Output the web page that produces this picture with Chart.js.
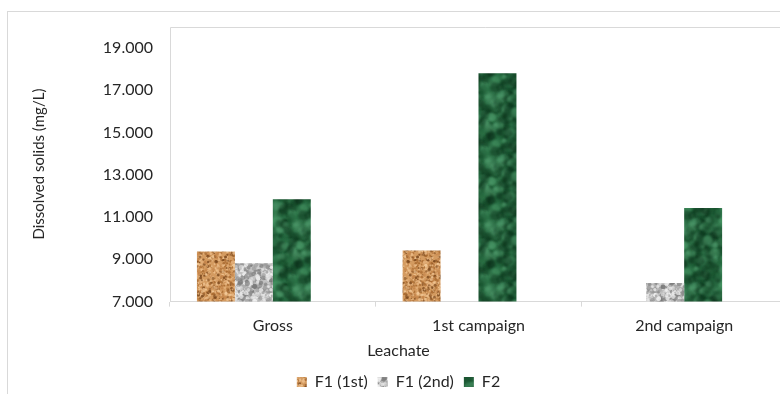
<!DOCTYPE html>
<html>
<head>
<meta charset="utf-8">
<script src="https://cdn.jsdelivr.net/npm/chart.js@4/dist/chart.umd.min.js"></script>
<style>
  html, body { margin: 0; padding: 0; background: #ffffff; overflow: hidden; }
  #wrap { width: 780px; height: 394px; overflow: hidden; }
</style>
</head>
<body>
<div id="wrap"><canvas id="chart" width="800" height="420"></canvas></div>
<script>
// Dissolved solids per leachate sample (mg/L)
const categories = ["Gross", "1st campaign", "2nd campaign"];
const f1First = [9370, 9420, null];
const f1Second = [8810, null, 7880];
const f2 = [11840, 17790, 11420];
const emptySlot = [null, null, null]; // fourth bar slot, left blank
const seriesNames = ["F1 (1st)", "F1 (2nd)", "F2"];
const yTicks = [7000, 9000, 11000, 13000, 15000, 17000, 19000];

const textColor = "#262626";
const lineColor = "#d9d9d9";
const fontFamily = "Lato, 'Open Sans', sans-serif";

// small seeded generator so the textures come out the same every time
function seeded(seed) {
    return function () {
        seed |= 0; seed = seed + 0x6D2B79F5 | 0;
        let t = Math.imul(seed ^ seed >>> 15, 1 | seed);
        t = t + Math.imul(t ^ t >>> 7, 61 | t) ^ t;
        return ((t ^ t >>> 14) >>> 0) / 4294967296;
    };
}

// paint a tile with speckles and turn it into a repeating pattern
function makeTexture(size, base, spots, count, rMin, rMax, alpha, blur, seed) {
    const tile = document.createElement("canvas");
    tile.width = size;
    tile.height = size;
    const c = tile.getContext("2d");
    const rand = seeded(seed);
    c.fillStyle = base;
    c.fillRect(0, 0, size, size);
    c.filter = "blur(" + blur + "px)";
    for (let i = 0; i < count; i++) {
        const x = rand() * size;
        const y = rand() * size;
        const r = rMin + rand() * (rMax - rMin);
        c.globalAlpha = alpha * (0.5 + rand() * 0.5);
        c.fillStyle = spots[Math.floor(rand() * spots.length)];
        // wrap around the edges so the tile repeats without seams
        for (const dx of [-size, 0, size]) {
            for (const dy of [-size, 0, size]) {
                c.beginPath();
                c.arc(x + dx, y + dy, r, 0, Math.PI * 2);
                c.fill();
            }
        }
    }
    c.globalAlpha = 1;
    c.filter = "none";
    return document.getElementById("chart").getContext("2d").createPattern(tile, "repeat");
}

const corkFill = makeTexture(48, "#d49b60",
    ["#a8692f", "#eab985", "#7d4a1f", "#f2c998", "#c4844a"], 700, 0.6, 1.6, 0.9, 0.3, 11);
const graniteFill = makeTexture(48, "#c2c2c2",
    ["#8e8e8e", "#e8e8e8", "#767676", "#f3f3f3", "#a9a9a9"], 480, 1.0, 2.6, 0.9, 0.5, 23);
const marbleFill = makeTexture(64, "#1d5834",
    ["#0f3a20", "#2c7448", "#4b9a69", "#0b2d18", "#23643c", "#5aa878"], 420, 1.2, 5.5, 0.55, 1.0, 37);

function formatThousands(v) {
    const whole = Math.floor(v / 1000);
    const rest = String(Math.round(v % 1000)).padStart(3, "0");
    return whole + "." + rest;
}

// outer chart border plus the left/top edges of the plot area
const framePlugin = {
    id: "frame",
    beforeDraw(chart) {
        const { ctx, chartArea } = chart;
        ctx.save();
        ctx.fillStyle = "#ffffff";
        ctx.fillRect(0, 0, chart.width, chart.height);
        ctx.strokeStyle = lineColor;
        ctx.lineWidth = 1;
        ctx.strokeRect(7.5, 11.5, chart.width + 20, chart.height + 20);
        ctx.beginPath();
        ctx.moveTo(Math.round(chartArea.left) + 0.5, Math.round(chartArea.bottom));
        ctx.lineTo(Math.round(chartArea.left) + 0.5, Math.round(chartArea.top) + 0.5);
        ctx.lineTo(chart.width, Math.round(chartArea.top) + 0.5);
        ctx.stroke();
        ctx.restore();
    }
};

new Chart(document.getElementById("chart"), {
    type: "bar",
    data: {
        labels: categories,
        datasets: [
            { label: seriesNames[0], data: f1First, backgroundColor: corkFill },
            { label: seriesNames[1], data: f1Second, backgroundColor: graniteFill },
            { label: seriesNames[2], data: f2, backgroundColor: marbleFill },
            { label: "", data: emptySlot, backgroundColor: "rgba(0,0,0,0)" },
        ],
    },
    options: {
        responsive: false,
        animation: false,
        categoryPercentage: 0.738,
        barPercentage: 1,
        layout: { padding: { top: 22, left: 10, right: 13, bottom: 20 } },
        scales: {
            x: {
                grid: {
                    drawOnChartArea: false,
                    offset: true,
                    tickLength: 5,
                    color: lineColor,
                },
                border: { color: lineColor },
                ticks: {
                    color: textColor,
                    padding: 10,
                    font: { family: fontFamily, size: 16 },
                },
            },
            y: {
                min: 7000,
                max: 20000,
                afterBuildTicks(scale) {
                    scale.ticks = yTicks.map((v) => ({ value: v }));
                },
                afterFit(scale) {
                    scale.width = 160;
                },
                grid: { display: false, drawTicks: false },
                border: { display: false },
                ticks: {
                    color: textColor,
                    padding: 17,
                    font: { family: fontFamily, size: 16 },
                    callback: (v) => formatThousands(v),
                },
                title: {
                    display: true,
                    text: "Dissolved solids (mg/L)",
                    color: textColor,
                    padding: { top: 20, bottom: 0 },
                    font: { family: fontFamily, size: 15 },
                },
            },
        },
        plugins: {
            title: {
                display: true,
                text: "Leachate",
                position: "bottom",
                weight: 500,
                color: textColor,
                padding: { top: -5, bottom: 4 },
                font: { family: fontFamily, size: 16, weight: "normal" },
            },
            legend: {
                position: "bottom",
                labels: {
                    boxWidth: 10,
                    boxHeight: 10,
                    padding: 10,
                    color: textColor,
                    font: { family: fontFamily, size: 16 },
                    filter: (item) => item.text !== "",
                },
            },
            tooltip: { enabled: false },
        },
    },
    plugins: [framePlugin],
});
</script>
</body>
</html>
